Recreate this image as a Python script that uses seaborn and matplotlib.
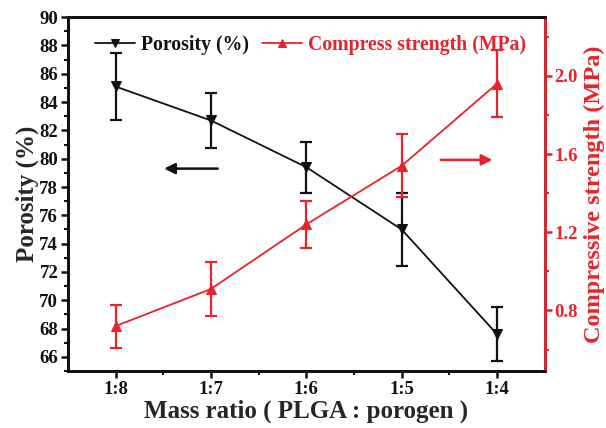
import numpy as np
import pandas as pd
import matplotlib
matplotlib.use("Agg")
import matplotlib.pyplot as plt
import seaborn as sns

ratios = ["1:8", "1:7", "1:6", "1:5", "1:4"]
porosity = [85.1, 82.7, 79.4, 75.0, 67.6]
porosity_err = [2.35, 1.95, 1.8, 2.6, 1.9]
strength = [0.72, 0.91, 1.24, 1.54, 1.96]
strength_err = [0.11, 0.14, 0.12, 0.16, 0.17]

sns.set_style("ticks")
plt.rcParams["font.family"] = ["Liberation Serif", "DejaVu Serif"]
plt.rcParams["font.weight"] = "bold"
plt.rcParams["axes.labelweight"] = "bold"

RED = "#e8232a"
pos = np.arange(len(ratios))
df = pd.DataFrame({"pos": pos, "ratio": ratios, "porosity": porosity,
                   "porosity_err": porosity_err, "strength": strength,
                   "strength_err": strength_err})

fig = plt.figure(figsize=(6.06, 4.28), dpi=100)
ax = fig.add_axes([0.112, 0.133, 0.787, 0.827])
ax2 = ax.twinx()

sns.lineplot(data=df, x="pos", y="porosity", ax=ax, color="#111111", lw=1.3,
             marker="v", markersize=6.5, markeredgecolor="#111111", label="Porosity (%)",
             legend=False)
ax.errorbar(df["pos"], df["porosity"], yerr=df["porosity_err"], fmt="none",
            ecolor="#111111", elinewidth=1.6, capsize=4, capthick=1.6)

sns.lineplot(data=df, x="pos", y="strength", ax=ax2, color=RED, lw=1.3,
             marker="^", markersize=6.5, markeredgecolor=RED,
             label="Compress strength (MPa)", legend=False)
ax2.errorbar(df["pos"], df["strength"], yerr=df["strength_err"], fmt="none",
             ecolor=RED, elinewidth=1.6, capsize=4, capthick=1.6)

ax.set_xlim(-0.5, len(ratios) - 0.5)
ax.set_ylim(65, 90)
ax2.set_ylim(0.49, 2.3)
ax.set_xticks(pos)
ax.set_xticklabels(ratios)
ax.set_xticks(pos[:-1] + 0.5, minor=True)
ax.set_yticks(np.arange(66, 91, 2))
ax.set_yticks(np.arange(65, 90, 1), minor=True)
ax2.set_yticks([0.8, 1.2, 1.6, 2.0])
ax2.set_yticks([0.6, 1.0, 1.4, 1.8, 2.2], minor=True)

ax.set_xlabel("Mass ratio ( PLGA : porogen )", fontsize=18, fontweight="bold", labelpad=1)
ax.set_ylabel("Porosity (%)", fontsize=18, fontweight="bold", labelpad=0)
ax2.set_ylabel("Compressive strength (MPa)", fontsize=17.5, fontweight="bold",
               color=RED, labelpad=4)

for a in (ax, ax2):
    for s in a.spines.values():
        s.set_linewidth(2)
        s.set_color("#111111")
ax2.spines["right"].set_color(RED)
ax.tick_params(axis="both", which="major", direction="out", length=5, width=1.8,
               labelsize=13.5, pad=2, colors="#111111")
ax.tick_params(axis="both", which="minor", direction="out", length=3, width=1.5,
               colors="#111111")
ax2.tick_params(axis="y", which="major", direction="out", length=5, width=1.8,
                labelsize=13.5, colors=RED, pad=2)
ax2.tick_params(axis="y", which="minor", direction="out", length=3, width=1.5, colors=RED)
for lab in ax.get_xticklabels() + ax.get_yticklabels() + ax2.get_yticklabels():
    lab.set_fontweight("bold")

# direction arrows
ax.annotate("", xy=(0.48, 79.3), xytext=(1.1, 79.3),
            arrowprops=dict(arrowstyle="-|>", color="#111111", lw=1.8, mutation_scale=16))
ax2.annotate("", xy=(3.98, 1.57), xytext=(3.38, 1.57),
             arrowprops=dict(arrowstyle="-|>", color=RED, lw=1.8, mutation_scale=16))

h1, l1 = ax.get_legend_handles_labels()
h2, l2 = ax2.get_legend_handles_labels()
leg = ax2.legend(h1 + h2, l1 + l2, loc="upper left", bbox_to_anchor=(0.02, 1.0),
                 ncol=2, frameon=False, handlelength=2.0, markerscale=0.8,
                 handletextpad=0.3, columnspacing=0.7, labelcolor="linecolor",
                 prop={"weight": "bold", "size": 14.2})

fig.savefig("out.png", dpi=100)
